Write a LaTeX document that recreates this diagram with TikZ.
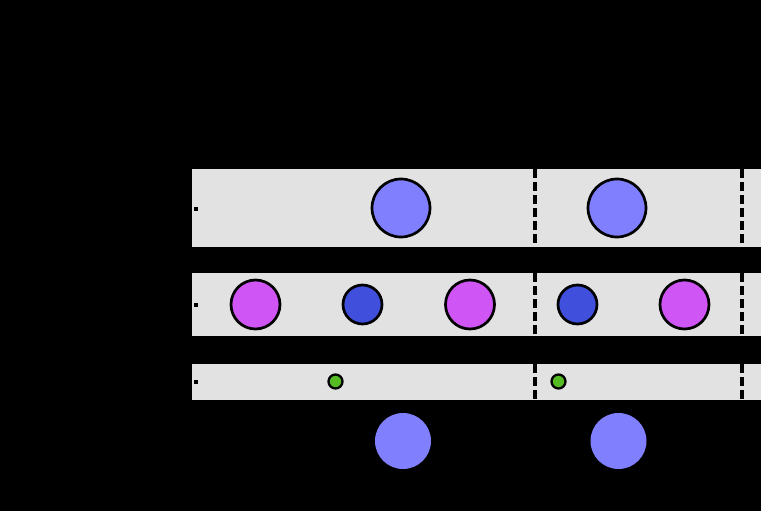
\documentclass[tikz,border=0pt]{standalone}
\definecolor{bandgrey}{HTML}{E2E2E2}
\definecolor{lightblue}{HTML}{8080FF}
\definecolor{midblue}{HTML}{4050DD}
\definecolor{magentac}{HTML}{D055F5}
\definecolor{greenc}{HTML}{55BB22}
\begin{document}
\begin{tikzpicture}[x=1pt,y=-1pt,
  band/.style={fill=bandgrey,draw=none},
  bigc/.style={circle,draw=black,line width=2.7pt,fill=lightblue,minimum size=58pt,inner sep=0pt},
  magc/.style={circle,draw=black,line width=2.7pt,fill=magentac,minimum size=49pt,inner sep=0pt},
  bluec/.style={circle,draw=black,line width=2.7pt,fill=midblue,minimum size=39pt,inner sep=0pt},
  greenc/.style={circle,draw=black,line width=2.3pt,fill=greenc,minimum size=14pt,inner sep=0pt},
  ghost/.style={circle,draw=none,fill=lightblue,minimum size=56pt,inner sep=0pt},
  tick/.style={fill=black,draw=none,minimum size=4pt,inner sep=0pt},
  divider/.style={line width=4pt,dash pattern=on 9pt off 4pt}]
\fill[black] (0,0) rectangle (761,511);
\useasboundingbox (0,0) rectangle (761,511);
\fill[band] (192,169) rectangle (761,247);
\fill[band] (192,273) rectangle (761,336);
\fill[band] (192,364) rectangle (761,400);
\node[tick] (t1) at (196,209) {};
\node[tick] (t2) at (196,304.5) {};
\node[tick] (t3) at (196,381.5) {};
\coordinate (d1a) at (534.5,169);
\coordinate (d1b) at (534.5,400);
\coordinate (d2a) at (741.5,169);
\coordinate (d2b) at (741.5,400);
\draw[divider] (d1a) -- (d1b);
\draw[divider] (d2a) -- (d2b);
\node[bigc] (b1) at (401,208) {};
\node[bigc] (b2) at (617,208) {};
\node[magc] (m1) at (255.5,304.5) {};
\node[bluec] (u1) at (362.5,304.5) {};
\node[magc] (m2) at (470,304.5) {};
\node[bluec] (u2) at (577.5,304.5) {};
\node[magc] (m3) at (684.5,304.5) {};
\node[greenc] (g1) at (335.5,381.5) {};
\node[greenc] (g2) at (558.5,381.5) {};
\node[ghost] (h1) at (403,441) {};
\node[ghost] (h2) at (618.5,441) {};
\end{tikzpicture}
\end{document}
